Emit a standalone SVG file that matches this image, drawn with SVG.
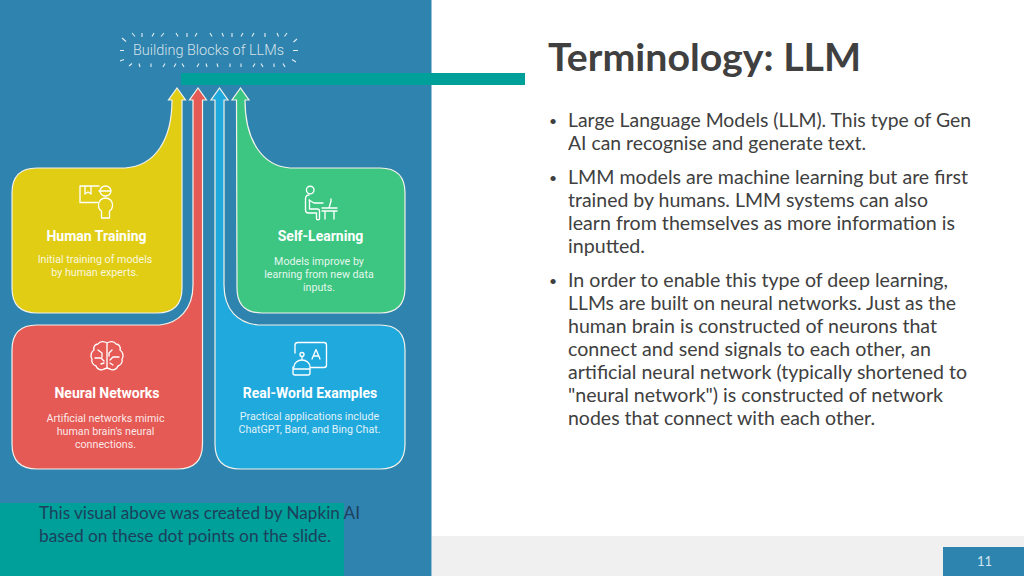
<svg xmlns="http://www.w3.org/2000/svg" width="1024" height="576" viewBox="0 0 1024 576">
<style>
.card{stroke:#f2f2ea;stroke-width:1.2}
.ic{fill:none;stroke:#fff;stroke-width:1.35;stroke-linecap:round;stroke-linejoin:round}
.h{font:700 14px Roboto,"Liberation Sans",sans-serif;fill:#fff;text-anchor:middle}
.b{font:400 10.7px Roboto,"Liberation Sans",sans-serif;fill:#fff;fill-opacity:.88;text-anchor:middle}
.t{font:400 19.5px Lato,"Open Sans",sans-serif;fill:#404040}
.d{font-size:14px}
.c{font:400 18px Lato,"Open Sans",sans-serif;fill:#1d3f5c}
</style>
<rect width="1024" height="576" fill="#fff"/>
<rect x="432" y="536" width="592" height="40" fill="#f0f0f0"/>
<rect x="0" y="0" width="431.500" height="576" fill="#2e83af"/>
<g id="title-badge">
<path d="M132 33l3 3.500M142 33v4M154 33l-2 3.500M164 33l-3 3.500M176 33l2 3.500M187 33v4M197 33l-2 3.500M210 33l2 3.500M222 33l1.500 3.500M232 33v4M243 33l-2 3.500M254 33l-2 3.500M265 33v4M277 33l1.500 3.500M287 33l-2.500 3.500M122 38l4 3.500M297 39l-3.500 3M120 50.500h4M293 50.500h5M120 61l4-1.500M296 62l-4-2.500M129 66l3-2.500M140 67l-1-3.500M151 67v-3.500M163 67l2-3.500M174 67l2-3.500M184 67l-2-3.500M197 67l2-3.500M207 67l-1-3.500M218 67l-1-3.500M230 67v-3.500M241 67v-3.500M253 67l2-3.500M263 67l-2-3.500M274 67v-3.500M285 67l-2-3.500" fill="none" stroke="#e4edf2" stroke-width="1.1"/>
<text x="208.500" y="55" font-family="Roboto,'Liberation Sans',sans-serif" font-weight="300" font-size="14" fill="#d5e2e9" text-anchor="middle" textLength="151" lengthAdjust="spacingAndGlyphs">Building Blocks of LLMs</text>
</g>
<g id="connector-bars">
<rect x="181" y="73" width="344" height="12" fill="#00a09a"/>
<rect x="0" y="503" width="344" height="73" fill="#00a09a"/>
</g>
<g id="human-training">
<path class="card" fill="#e1cd14" d="M12 193Q12 168 37 168H125C155 166 172 140 172 100H168.500L177 88L185.500 100H182V288Q182 313 157 313H37Q12 313 12 288Z"/>
<path class="ic" d="M99 186H80V202.500H97.500M85 186v8l3-2 3 2v-8M99 191h4M111 191a5.500 5 0 1 1-11 0a5.500 5 0 1 1 11 0M100.500 191h10.500M105.500 198c-4 0-7 3-7 7c0 3 1 5 3 6v7h8v-7c2-1 3-3 3-6c0-4-3-7-7-7z"/>
<text class="h" x="96.500" y="241">Human Training</text>
<text class="b" x="95" y="263">Initial training of models</text>
<text class="b" x="95" y="276">by human experts.</text>
</g>
<g id="self-learning">
<path class="card" fill="#3dc682" d="M236.500 100H232L240.500 88L249 100H245C245 140 262 166 290 168H380Q405 168 405 193V288Q405 313 380 313H262Q237 313 237 288Z"/>
<path class="ic" d="M314 190a3.800 3.800 0 1 1-7.600 0a3.800 3.800 0 1 1 7.600 0M309 195c-3 0-3.500 2-3.500 4v11c0 2 1 3 3 3h8v6c0 1 3 1 3 0v-8c0-1-1-2-2-2h-8v-9M309 200l5 3h9M322 208h15M322 211h15M325 211v8M334 211v8M329 208l2-7v-2M330 208h2"/>
<text class="h" x="320.500" y="241">Self-Learning</text>
<text class="b" x="319" y="265">Models improve by</text>
<text class="b" x="319" y="278">learning from new data</text>
<text class="b" x="319" y="291">inputs.</text>
</g>
<g id="neural-networks">
<path class="card" fill="#e55a55" d="M12 350Q12 325 37 325H160C178 323 193 310 193 285V100H189.500L198 88L206.500 100H202.500V444Q202.500 469 177.500 469H37Q12 469 12 444Z"/>
<path class="ic" d="M107 343c-3-2-7-2-9 1c-3 0-5 3-4 6c-3 2-4 6-2 9c-1 3 1 6 4 7c1 3 5 5 8 3l3-1V344zM107 343c3-2 7-2 9 1c3 0 5 3 4 6c3 2 4 6 2 9c1 3-1 6-4 7c-1 3-5 5-8 3l-3-1M107 348v20M98 350l4 3v4M95 358h6l3 3M101 364l3-1M112 350l-3 3v3M119 357h-6l-3 3M113 365l-3-2"/>
<text class="h" x="107" y="398">Neural Networks</text>
<text class="b" x="105.500" y="422">Artificial networks mimic</text>
<text class="b" x="105.500" y="435">human brain's neural</text>
<text class="b" x="105.500" y="448">connections.</text>
</g>
<g id="real-world-examples">
<path class="card" fill="#20a9dd" d="M215 100H211L219.500 88L228 100H224V285C224 310 238 323 258 325H380Q405 325 405 350V444Q405 469 380 469H240Q215 469 215 444Z"/>
<path class="ic" d="M295 353V345Q295 342.500 298 342.500H324Q326.500 342.500 326.500 345V365Q326.500 367.500 324 367.500H311M312 359L316 349.500L320 359M313.500 356H318.500M304 354.500a2 2 0 1 1-4 0a2 2 0 1 1 4 0M302 356.500v3M294 367a8 7 0 0 1 16 0V373a2 2 0 0 1-2 2H295a2 2 0 0 1-2-2V367M293 369H310"/>
<text class="h" x="310" y="398">Real-World Examples</text>
<text class="b" x="309.500" y="420">Practical applications include</text>
<text class="b" x="309.500" y="433">ChatGPT, Bard, and Bing Chat.</text>
</g>
<g id="caption">
<text class="c" x="39" y="519" textLength="321" lengthAdjust="spacingAndGlyphs">This visual above was created by Napkin AI</text>
<text class="c" x="39" y="542" textLength="292" lengthAdjust="spacingAndGlyphs">based on these dot points on the slide.</text>
</g>
<g id="slide-text">
<text x="548" y="71" font-family="Lato,'Open Sans',sans-serif" font-weight="700" font-size="38" fill="#404040" textLength="313" lengthAdjust="spacingAndGlyphs">Terminology: LLM</text>
<g class="t">
<text class="d" x="549" y="126">•</text>
<text x="568" y="127" textLength="403" lengthAdjust="spacingAndGlyphs">Large Language Models (LLM). This type of Gen</text>
<text x="568" y="150" textLength="298" lengthAdjust="spacingAndGlyphs">AI can recognise and generate text.</text>
<text class="d" x="549" y="183">•</text>
<text x="568" y="184" textLength="400" lengthAdjust="spacingAndGlyphs">LMM models are machine learning but are first</text>
<text x="568" y="207" textLength="360" lengthAdjust="spacingAndGlyphs">trained by humans. LMM systems can also</text>
<text x="568" y="230" textLength="387" lengthAdjust="spacingAndGlyphs">learn from themselves as more information is</text>
<text x="568" y="253" textLength="77" lengthAdjust="spacingAndGlyphs">inputted.</text>
<text class="d" x="549" y="286">•</text>
<text x="568" y="287" textLength="380" lengthAdjust="spacingAndGlyphs">In order to enable this type of deep learning,</text>
<text x="568" y="310" textLength="388" lengthAdjust="spacingAndGlyphs">LLMs are built on neural networks. Just as the</text>
<text x="568" y="333" textLength="369" lengthAdjust="spacingAndGlyphs">human brain is constructed of neurons that</text>
<text x="568" y="356" textLength="363" lengthAdjust="spacingAndGlyphs">connect and send signals to each other, an</text>
<text x="568" y="379" textLength="399" lengthAdjust="spacingAndGlyphs">artificial neural network (typically shortened to</text>
<text x="568" y="402" textLength="375" lengthAdjust="spacingAndGlyphs">"neural network") is constructed of network</text>
<text x="568" y="425" textLength="307" lengthAdjust="spacingAndGlyphs">nodes that connect with each other.</text>
</g>
</g>
<g id="page-number">
<rect x="943" y="547" width="81" height="29" fill="#2d84ae"/>
<text x="984.500" y="566" font-family="Lato,'Open Sans',sans-serif" font-size="13" fill="#cfe6f1" text-anchor="middle">11</text>
</g>
</svg>
